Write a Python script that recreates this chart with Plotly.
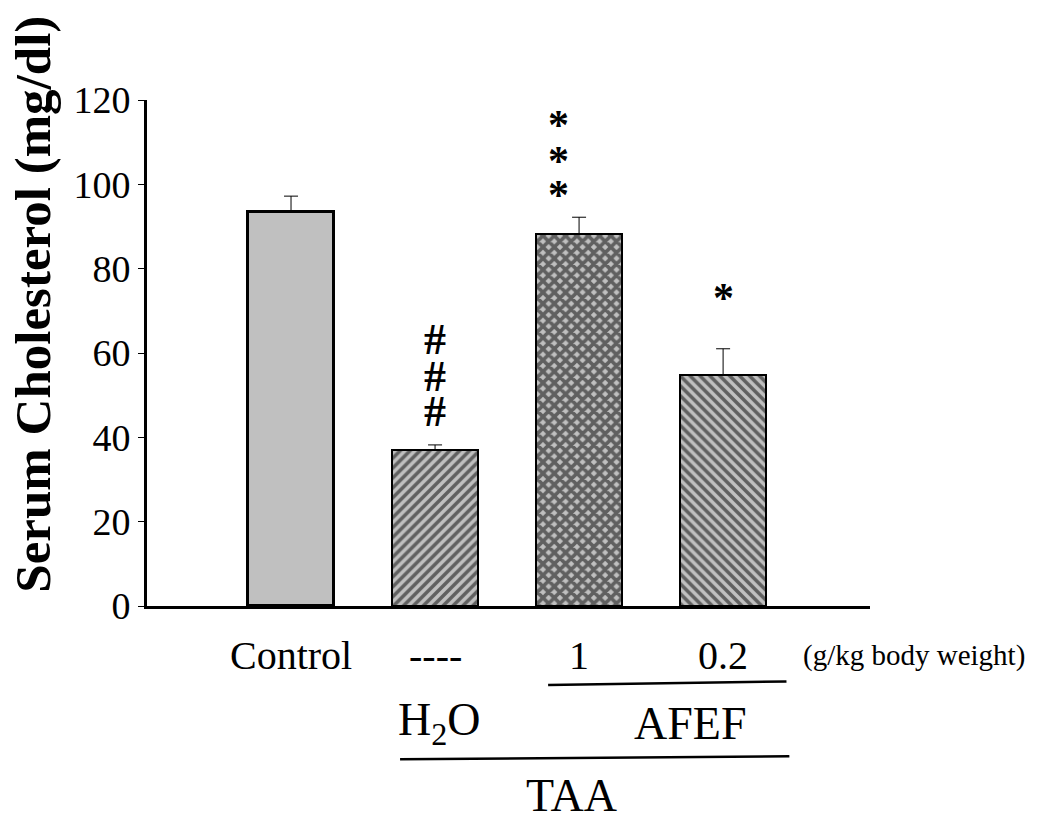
import plotly.graph_objects as go

# ---- data ----
categories = ["Control", "----", "1", "0.2"]
means = [93.4, 37.0, 88.2, 54.8]
sems = [3.8, 1.2, 4.0, 6.2]
unit_label = "(g/kg body weight)"
y_ticks = [0, 20, 40, 60, 80, 100, 120]

# significance markers: category index and y positions in data units
hash_idx = 1
hash_y = [63.1, 54.5, 46.1]
star3_idx = 2
star3_y = [115.0, 106.5, 98.4]
star1_idx = 3
star1_y = [74.2]

# ---- styles ----
GRAY = "#c0c0c0"
FONT = "Liberation Serif, Times New Roman, serif"
patterns = [
    dict(shape=""),
    dict(shape="/", fgcolor="black", bgcolor=GRAY, size=7, solidity=0.5),
    dict(shape="x", fgcolor="black", bgcolor=GRAY, size=8, solidity=0.7),
    dict(shape="\\", fgcolor="black", bgcolor=GRAY, size=7, solidity=0.5),
]
outline_w = [3, 2, 2, 2]

x = list(range(len(categories)))

fig = go.Figure()
for i in x:
    fig.add_trace(go.Bar(
        x=[i], y=[means[i]],
        width=0.6,
        marker=dict(color=GRAY, line=dict(color="black", width=outline_w[i]),
                    pattern=patterns[i]),
        error_y=dict(type="data", array=[sems[i]], arrayminus=[0],
                     symmetric=False, color="black", thickness=1, width=7),
        showlegend=False,
    ))


def txt(x, y, text, size, xref="x", yref="paper", bold=False, **kw):
    return dict(x=x, y=y, xref=xref, yref=yref, text=f"<b>{text}</b>" if bold else text,
                showarrow=False, xanchor="center", yanchor="middle",
                font=dict(size=size, family=FONT, color="black"), **kw)


annotations = []
# category labels under the axis
for i, c in enumerate(categories):
    annotations.append(txt(i, -0.097, c, 40))
annotations.append(txt(1.061, -0.097, unit_label, 29, xref="paper"))
# group labels
annotations.append(txt(1.03, -0.232, "H<sub>2</sub>O", 46))
annotations.append(txt(2.77, -0.232, "AFEF", 46))
annotations.append(txt(1.95, -0.374, "TAA", 46))
# y-axis title
annotations.append(txt(-0.158, 0.597, "Serum Cholesterol (mg/dl)", 51,
                       xref="paper", bold=True, textangle=-90))
# significance markers
for yy in hash_y:
    annotations.append(txt(hash_idx, yy, "#", 44, yref="y", bold=True))
for yy in star3_y:
    annotations.append(txt(star3_idx - 0.14, yy, "*", 42, yref="y", bold=True, yshift=-4))
for yy in star1_y:
    annotations.append(txt(star1_idx, yy, "*", 42, yref="y", bold=True, yshift=-5))

shapes = [
    dict(type="line", xref="x", yref="paper", x0=1.785, x1=3.44, y0=-0.156, y1=-0.149,
         line=dict(color="black", width=2.5)),
    dict(type="line", xref="x", yref="paper", x0=0.757, x1=3.46, y0=-0.303, y1=-0.297,
         line=dict(color="black", width=2.5)),
]

fig.update_layout(
    width=1041, height=812,
    margin=dict(l=139, r=179, t=92, b=214),
    plot_bgcolor="white", paper_bgcolor="white",
    bargap=0,
    annotations=annotations,
    shapes=shapes,
    font=dict(family=FONT, color="black"),
)
fig.update_xaxes(range=[-1.0, 4.02], showticklabels=False, ticks="",
                 showline=True, linecolor="black", linewidth=3, showgrid=False,
                 zeroline=False)
fig.update_yaxes(range=[0, 120], tickvals=y_ticks, ticks="outside", ticklen=6,
                 tickcolor="black", tickwidth=1, showline=True, linecolor="black",
                 linewidth=3, showgrid=False, zeroline=False,
                 tickfont=dict(size=38, family=FONT, color="black"))

fig.write_html("out.html")
